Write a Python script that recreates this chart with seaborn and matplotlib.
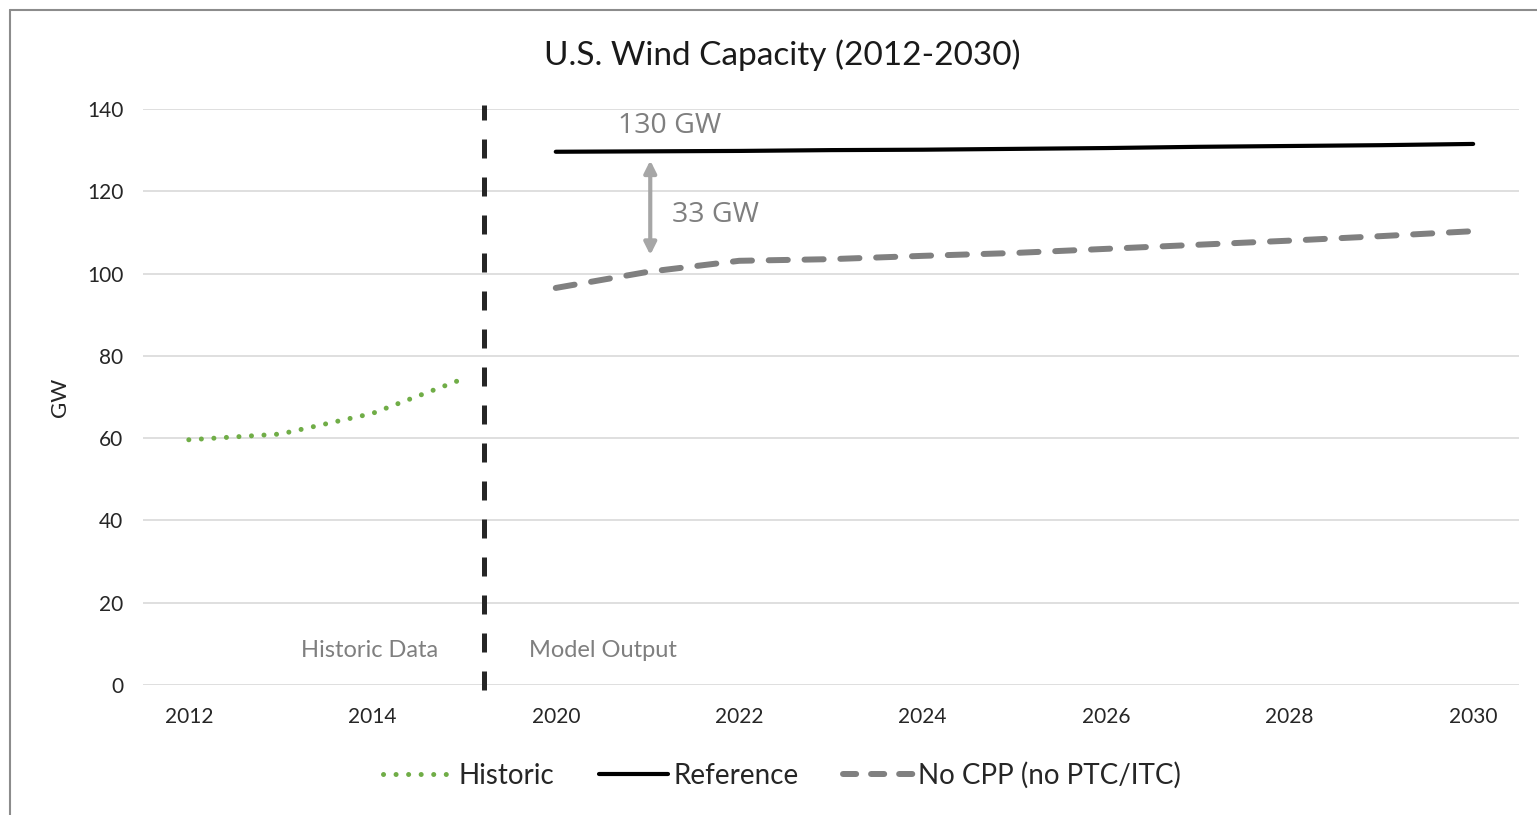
import matplotlib
matplotlib.use("Agg")
import matplotlib.pyplot as plt
from matplotlib.lines import Line2D
import pandas as pd
import seaborn as sns

# x categories (evenly spaced, as in the source spreadsheet chart)
years = [2012, 2013, 2014, 2015, 2020, 2021, 2022, 2023, 2024, 2025,
         2026, 2027, 2028, 2029, 2030]
tick_years = [2012, 2014, 2020, 2022, 2024, 2026, 2028, 2030]

hist_years = [2012, 2013, 2014, 2015]
hist_gw = [59.6, 61.0, 66.0, 74.5]

model_years = [2020, 2021, 2022, 2023, 2024, 2025, 2026, 2027, 2028, 2029, 2030]
reference_gw = [129.6, 129.7, 129.8, 130.0, 130.1, 130.3, 130.5, 130.8, 131.0, 131.2, 131.5]
no_cpp_gw = [96.5, 100.4, 103.1, 103.5, 104.3, 105.0, 106.0, 107.0, 108.0, 109.1, 110.3]

pos = {y: i for i, y in enumerate(years)}

sns.set_style("white")
plt.rcParams["font.family"] = ["Lato", "DejaVu Sans"]

fig = plt.figure(figsize=(15.37, 8.15), dpi=100)
ax = fig.add_axes([0.093, 0.1595, 0.8953, 0.7068])

hist = pd.DataFrame({"x": [pos[y] for y in hist_years], "gw": hist_gw})
model = pd.DataFrame({"x": [pos[y] for y in model_years],
                      "ref": reference_gw, "nocpp": no_cpp_gw})

sns.lineplot(data=hist, x="x", y="gw", ax=ax, color="#70ad47", lw=3.6,
             solid_capstyle="round")
ax.lines[-1].set_dashes((0.01, 2.5))
ax.lines[-1].set_dash_capstyle("round")
sns.lineplot(data=model, x="x", y="ref", ax=ax, color="black", lw=3.0,
             solid_capstyle="round")
sns.lineplot(data=model, x="x", y="nocpp", ax=ax, color="#808080", lw=4.3)
ax.lines[-1].set_dashes((3.2, 2.8))
ax.lines[-1].set_dash_capstyle("round")

# divider between historic data and model output
ax.plot([3.22, 3.22], [-1.2, 141], color="#262626", lw=3.6,
        dashes=(3.8, 3.8), clip_on=False)

ax.annotate("", xy=(5.03, 127.5), xytext=(5.03, 104.5),
            arrowprops=dict(arrowstyle="<|-|>", color="#a6a6a6", lw=3,
                            mutation_scale=18, shrinkA=0, shrinkB=0))
ax.text(4.68, 135.9, "130 GW", fontsize=20.5, color="#7f7f7f",
        family="Open Sans", va="center", ha="left")
ax.text(5.27, 114.2, "33 GW", fontsize=20.5, color="#7f7f7f",
        family="Open Sans", va="center", ha="left")
ax.text(1.97, 8.5, "Historic Data", fontsize=17, color="#7f7f7f",
        va="center", ha="center")
ax.text(4.51, 8.5, "Model Output", fontsize=17, color="#7f7f7f",
        va="center", ha="center")

ax.set_xlim(-0.5, 14.5)
ax.set_ylim(0, 140)
ax.set_yticks(range(0, 141, 20))
ax.set_xticks([pos[y] for y in tick_years])
ax.set_xticklabels([str(y) for y in tick_years])
ax.tick_params(axis="both", length=0, labelsize=15, colors="#262626")
ax.tick_params(axis="x", pad=16)
ax.tick_params(axis="y", pad=14)
ax.grid(axis="y", color="#d9d9d9", lw=1.2)
ax.set_axisbelow(True)
sns.despine(ax=ax, left=True, bottom=True)
ax.set_xlabel("")
ax.set_ylabel("GW", fontsize=16, color="#262626", labelpad=12)

fig.text(0.509, 0.9325, "U.S. Wind Capacity (2012-2030)", fontsize=24,
         ha="center", va="center", color="#1a1a1a")

handles = [
    Line2D([], [], color="#70ad47", lw=3.6, dashes=(0.01, 2.5),
           dash_capstyle="round"),
    Line2D([], [], color="black", lw=3.0),
    Line2D([], [], color="#808080", lw=4.3, dashes=(2.2, 2.5),
           dash_capstyle="round"),
]
fig.legend(handles, ["Historic", "Reference", "No CPP (no PTC/ITC)"],
           loc="center", bbox_to_anchor=(0.509, 0.049), ncol=3, frameon=False,
           fontsize=20, handlelength=2.5, handletextpad=0.2, columnspacing=1.6)

# outer chart frame (only top and left edges visible)
fig.add_artist(Line2D([10 / 1537, 10 / 1537], [0, 1 - 10 / 815],
                      transform=fig.transFigure, color="#8c8c8c", lw=1.5))
fig.add_artist(Line2D([10 / 1537, 1], [1 - 10 / 815, 1 - 10 / 815],
                      transform=fig.transFigure, color="#8c8c8c", lw=1.5))

fig.savefig("out.png", dpi=100)
